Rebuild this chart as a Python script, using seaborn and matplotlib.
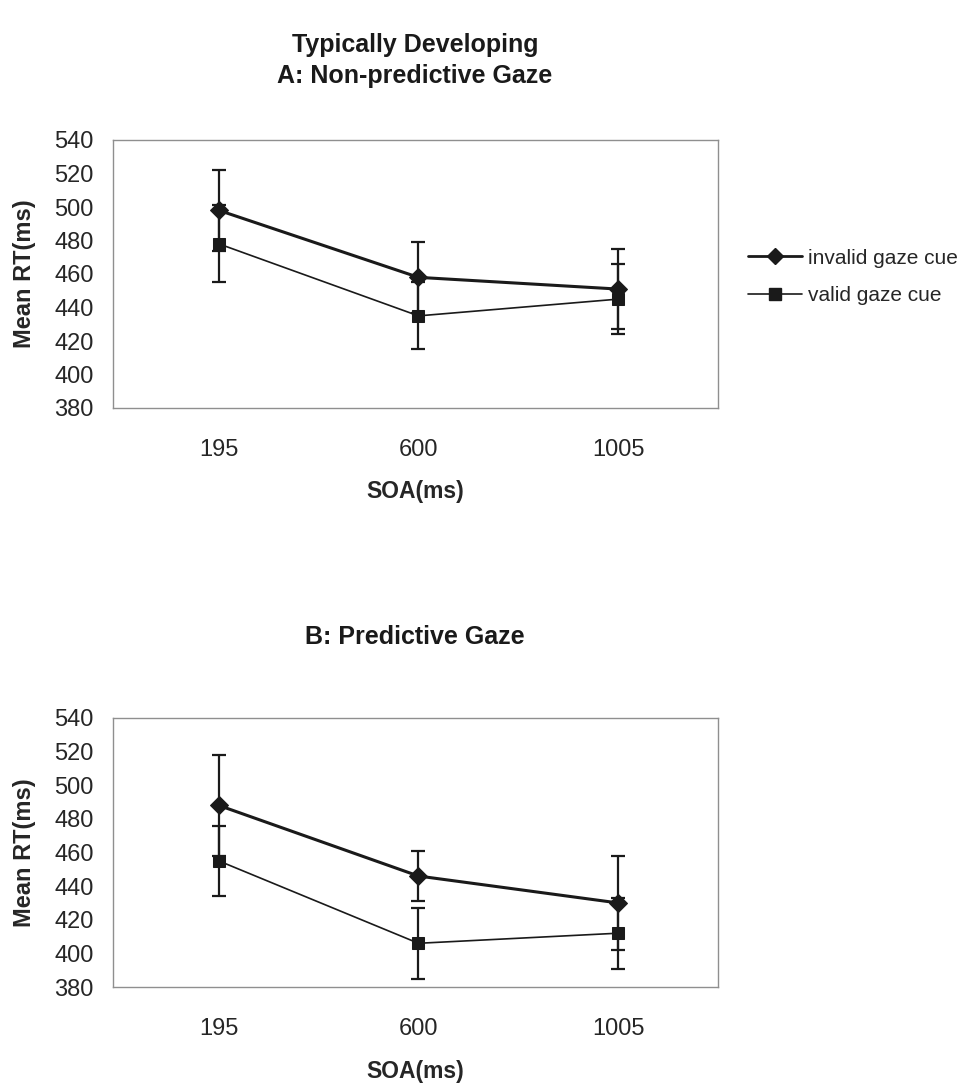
import pandas as pd
import numpy as np
import matplotlib
matplotlib.use("Agg")
import matplotlib.pyplot as plt
import seaborn as sns
from matplotlib.lines import Line2D

sns.set_style("white")
plt.rcParams["font.family"] = ["Liberation Sans", "DejaVu Sans"]

# data
soa = ["195", "600", "1005"]
cues = ["invalid gaze cue", "valid gaze cue"]

# A: Non-predictive gaze
a_invalid = [498, 458, 451]
a_valid = [478, 435, 445]
a_invalid_err = [24, 21, 24]
a_valid_err = [23, 20, 21]

# B: Predictive gaze
b_invalid = [488, 446, 430]
b_valid = [455, 406, 412]
b_invalid_err = [30, 15, 28]
b_valid_err = [21, 21, 21]

yticks = list(range(380, 541, 20))

W, H = 968, 1085
fig = plt.figure(figsize=(W / 100, H / 100), dpi=100)
ink = "#1a1a1a"


def draw_panel(ax, inv, val, inv_err, val_err):
    pos = np.arange(len(soa))
    df = pd.DataFrame({
        "pos": np.concatenate([pos, pos]),
        "rt": inv + val,
        "cue": [cues[0]] * 3 + [cues[1]] * 3,
    })
    # error bars first so markers sit on top
    for y, e in [(inv, inv_err), (val, val_err)]:
        ax.errorbar(pos, y, yerr=e, fmt="none", ecolor=ink,
                    elinewidth=1.6, capsize=5, capthick=1.6, zorder=2)
    sns.lineplot(data=df[df.cue == cues[0]], x="pos", y="rt", ax=ax,
                 color=ink, linewidth=2.2, marker="D", markersize=9,
                 markeredgecolor=ink, legend=False, zorder=3)
    sns.lineplot(data=df[df.cue == cues[1]], x="pos", y="rt", ax=ax,
                 color=ink, linewidth=1.2, marker="s", markersize=8.5,
                 markeredgecolor=ink, legend=False, zorder=3)
    ax.set_xlim(-0.53, 2.5)
    ax.set_ylim(380, 540)
    ax.set_xticks(pos)
    ax.set_xticklabels(soa, fontsize=17)
    ax.set_yticks(yticks)
    ax.set_yticklabels([str(t) for t in yticks], fontsize=17)
    ax.tick_params(axis="y", length=0, pad=14)
    ax.tick_params(axis="x", length=0, pad=22)
    ax.set_xlabel("SOA(ms)", fontsize=16.5, fontweight="bold")
    ax.set_ylabel("Mean RT(ms)", fontsize=17, fontweight="bold")
    ax.xaxis.set_label_coords(0.5, -0.27)
    ax.yaxis.set_label_coords(-0.128, 0.5)
    for s in ax.spines.values():
        s.set_color("#8f8f8f")
        s.set_linewidth(1.0)
    ax.grid(False)


ax1 = fig.add_axes([113 / W, 1 - 408 / H, 605 / W, 268 / H])
draw_panel(ax1, a_invalid, a_valid, a_invalid_err, a_valid_err)

ax2 = fig.add_axes([113 / W, 1 - 987 / H, 605 / W, 269 / H])
draw_panel(ax2, b_invalid, b_valid, b_invalid_err, b_valid_err)

title_kw = dict(ha="center", va="center", fontsize=18, fontweight="bold", color=ink)
fig.text(415 / W, 1 - 45 / H, "Typically Developing", **title_kw)
fig.text(415 / W, 1 - 76 / H, "A: Non-predictive Gaze", **title_kw)
fig.text(415 / W, 1 - 637 / H, "B: Predictive Gaze", **title_kw)

handles = [
    Line2D([], [], color=ink, linewidth=2.0, marker="D", markersize=8),
    Line2D([], [], color=ink, linewidth=1.2, marker="s", markersize=8),
]
fig.legend(handles, cues, loc="center left", bbox_to_anchor=(748 / W, 1 - 277 / H),
           frameon=False, fontsize=15, handlelength=2.6, handletextpad=0.3,
           labelspacing=0.9, borderaxespad=0, borderpad=0)

fig.savefig("out.png", dpi=100, facecolor="white")
